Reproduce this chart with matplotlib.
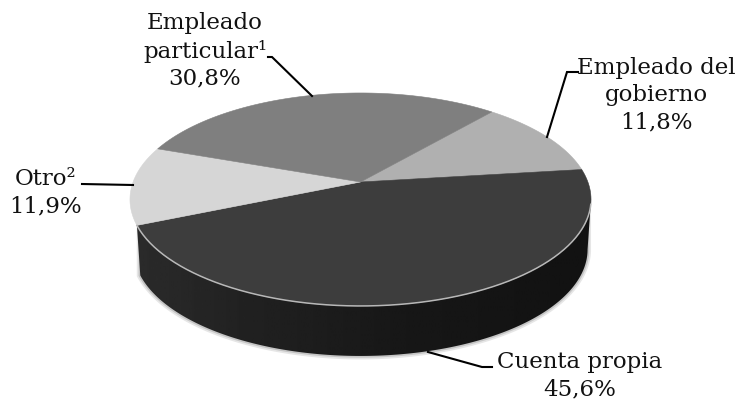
import numpy as np
import matplotlib
matplotlib.use('Agg')
import matplotlib.pyplot as plt
from matplotlib.patches import Polygon

# Datos del grafico, en orden horario desde el angulo inicial
categorias = ['Empleado del\ngobierno', 'Cuenta propia', 'Otro²', 'Empleado\nparticular¹']
valores = [11.8, 45.6, 11.9, 30.8]
colores = ['#b0b0b0', '#3d3d3d', '#d6d6d6', '#7f7f7f']

# Geometria de la tarta con perspectiva (pixeles)
cx, cy = 360.5, 199.5
a, b, c, k = 227.4, 106.5, 17.5, 0.164
profundidad = 50
inicio = 49.5


def proyectar(theta, caida=0.0, escala=1.0):
    # circulo unidad -> elipse en perspectiva, el centro queda desplazado
    t = np.radians(theta)
    x, y = np.cos(t), np.sin(t)
    w = 1 + k * y
    return cx + escala * a * x / w, cy - (b * y + c) / w + caida


plt.rcParams['font.family'] = 'DejaVu Serif'
fig = plt.figure(figsize=(7.41, 4.01), dpi=100)
ax = fig.add_axes([0, 0, 1, 1])
ax.set_xlim(0, 741)
ax.set_ylim(401, 0)
ax.axis('off')

limites = inicio - np.cumsum([0] + valores) * 360 / sum(valores)
fin_cuenta = limites[2]

# Pared lateral con degradado, desde el punto mas a la derecha de la elipse
th_der = np.degrees(np.arcsin(-k))
th = np.linspace(th_der, fin_cuenta, 200)
xs, ys = proyectar(th)
xi, yi = proyectar(th, profundidad, 0.985)
pared = np.r_[np.c_[xs, ys], np.c_[xi, yi][::-1]]

# Halo claro alrededor de la pared
xa, ya = proyectar(th, 6, 0.985)
halo = np.r_[np.c_[xa, ya], np.c_[xi, yi][::-1]]
ax.add_patch(Polygon(halo, closed=True, fc='#e6e6e6', ec='#e6e6e6', lw=5, zorder=1))
ax.add_patch(Polygon(halo, closed=True, fc='#c4c4c4', ec='#c4c4c4', lw=2.5, zorder=1.5))

parche = Polygon(pared, closed=True, fc='none', ec='none')
ax.add_patch(parche)
grad = np.interp(np.linspace(0, 1, 256), [0, 0.25, 0.6, 1], [0.17, 0.13, 0.09, 0.07])
img = ax.imshow(grad[None, :], extent=(130, 591, 401, 0), cmap='gray', vmin=0, vmax=1,
                aspect='auto', zorder=2)
img.set_clip_path(parche)
ax.set_xlim(0, 741)
ax.set_ylim(401, 0)

# Cara superior
for val, col, t0, t1 in zip(valores, colores, limites[:-1], limites[1:]):
    th = np.linspace(t0, t1, 120)
    x, y = proyectar(th)
    cx0, cy0 = proyectar(90.0)[0], cy - c
    poly = np.r_[[[cx0, cy0]], np.c_[x, y]]
    ax.add_patch(Polygon(poly, closed=True, fc=col, ec=col, lw=0.4, zorder=3))

# Borde claro del frente, sin llegar al extremo derecho
th_borde = np.linspace(-12, fin_cuenta, 200)
ax.plot(*proyectar(th_borde), color='#b8b8b8', lw=1.1, zorder=4)

# Lineas guia
lineas_x = [[312, 272, 268], [547, 567, 578], [133, 82], [428, 482, 492]]
lineas_y = [[96, 57, 57], [137, 72, 72], [185, 184], [352, 367, 367]]
for lx, ly in zip(lineas_x, lineas_y):
    ax.plot(lx, ly, color='black', lw=1.5, zorder=5, solid_joinstyle='miter')

# Etiquetas
etiquetas = [f'{n}\n{v:.1f}%'.replace('.', ',') for n, v in zip(categorias, valores)]
pos_x = [656, 580, 46, 205]
pos_y = [95, 376, 193, 51]
for txt, px, py in zip(etiquetas, pos_x, pos_y):
    ax.text(px, py, txt, ha='center', va='center', fontsize=16.5, linespacing=1.3,
            color='#111111', zorder=6)

fig.savefig('out.png', dpi=100)
